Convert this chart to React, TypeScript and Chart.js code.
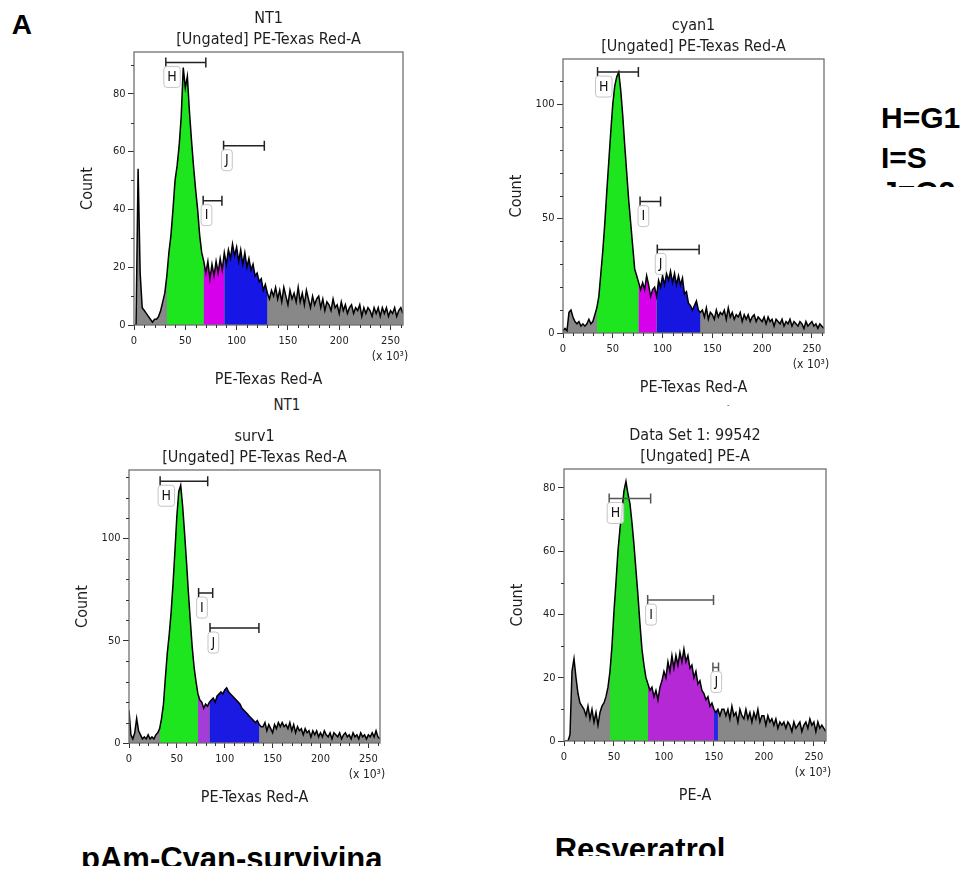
import React, { useEffect, useRef } from 'react';
import { Chart, registerables } from 'chart.js';

Chart.register(...registerables);

// ---------- data ----------
const X_STEP = 2; // histogram bin width, x 10^3
const X_MAX = 262.144;
const X_MAJOR = 50;

const NT1_COUNTS = [
  0, 0, 54, 18, 6, 5, 4, 3, 2, 1,
  2, 2, 3, 5, 8, 11, 17, 25, 31, 40,
  50, 55, 62, 72, 89, 82, 86, 74, 64, 55,
  47, 40, 31, 25, 22, 18, 22, 16, 21, 17,
  22, 18, 23, 19, 25, 21, 26, 23, 28, 24,
  27, 22, 26, 21, 25, 20, 23, 19, 21, 17,
  18, 15, 16, 12, 14, 11, 9, 12, 10, 13,
  9, 12, 8, 13, 10, 7, 12, 9, 11, 8,
  13, 8, 11, 7, 12, 9, 6, 10, 7, 9,
  10, 6, 9, 5, 8, 7, 5, 9, 6, 7,
  4, 8, 5, 7, 4, 6, 7, 4, 6, 5,
  7, 3, 6, 4, 6, 5, 3, 6, 4, 6,
  3, 6, 4, 6, 3, 5, 4, 6, 3, 5,
  6, 4,
];

const CYAN1_COUNTS = [
  1, 2, 1, 9, 10, 7, 5, 4, 5, 3,
  4, 3, 4, 6, 4, 5, 8, 11, 16, 26,
  36, 48, 62, 75, 88, 100, 108, 112, 114, 106,
  95, 82, 70, 58, 48, 38, 28, 25, 22, 19,
  22, 19, 25, 21, 16, 19, 20, 16, 23, 20,
  25, 21, 26, 23, 27, 22, 26, 21, 25, 21,
  24, 17, 18, 13, 12, 10, 12, 14, 10, 9,
  10, 7, 11, 6, 9, 8, 6, 10, 7, 9,
  8, 10, 6, 11, 7, 9, 6, 8, 7, 9,
  5, 8, 6, 8, 5, 7, 8, 5, 7, 6,
  5, 7, 4, 7, 5, 6, 3, 6, 5, 4,
  6, 3, 5, 4, 6, 3, 5, 4, 3, 5,
  4, 2, 5, 3, 4, 5, 3, 4, 2, 4,
  3, 2,
];

const SURV1_COUNTS = [
  16, 4, 2, 5, 12, 6, 4, 2, 3, 2,
  4, 2, 3, 2, 4, 5, 7, 12, 19, 32,
  44, 53, 64, 78, 94, 111, 123, 126, 116, 103,
  89, 74, 60, 47, 37, 30, 24, 21, 20, 17,
  19, 18, 20, 21, 22, 20, 23, 24, 25, 24,
  26, 27, 25, 24, 23, 22, 21, 20, 19, 17,
  16, 15, 14, 13, 12, 11, 10, 11, 9, 8,
  8, 10, 6, 9, 7, 5, 9, 7, 10, 8,
  10, 8, 9, 7, 10, 6, 9, 5, 8, 6,
  7, 4, 7, 5, 6, 3, 6, 4, 6, 3,
  5, 3, 6, 4, 3, 5, 2, 5, 4, 3,
  5, 2, 4, 5, 3, 4, 2, 5, 3, 4,
  2, 5, 3, 4, 2, 4, 3, 5, 3, 6,
  3, 2,
];

const DS1_COUNTS = [
  0, 0, 0, 2, 22, 26, 20, 15, 12, 11,
  10, 8, 11, 7, 10, 6, 9, 5, 9, 11,
  12, 14, 17, 22, 30, 41, 50, 60, 67, 73,
  79, 82, 78, 75, 69, 62, 54, 46, 37, 29,
  24, 20, 18, 16, 17, 14, 16, 13, 17, 19,
  22, 20, 25, 22, 27, 23, 27, 24, 28, 25,
  29, 25, 27, 23, 24, 20, 22, 18, 19, 16,
  15, 13, 14, 11, 12, 10, 9, 10, 8, 10,
  10, 8, 10, 7, 11, 8, 9, 6, 10, 8,
  7, 10, 7, 9, 6, 9, 7, 10, 6, 8,
  8, 5, 8, 6, 7, 5, 7, 4, 6, 5,
  6, 4, 6, 5, 3, 6, 4, 5, 6, 3,
  5, 6, 4, 7, 5, 6, 3, 6, 4, 5,
  4, 3,
];

// gates: label, from, to (x 10^3), level (count)
const NT1_GATES = [
  { label: 'H', from: 31, to: 70, level: 90.8 },
  { label: 'I', from: 67.4, to: 85.7, level: 43 },
  { label: 'J', from: 87.3, to: 127, level: 62 },
];
const CYAN1_GATES = [
  { label: 'H', from: 34.7, to: 75.7, level: 114 },
  { label: 'I', from: 77.4, to: 98, level: 57.4 },
  { label: 'J', from: 94.7, to: 136.7, level: 36.5 },
];
const SURV1_GATES = [
  { label: 'H', from: 32.5, to: 82.2, level: 128 },
  { label: 'I', from: 72.7, to: 87.4, level: 73.3 },
  { label: 'J', from: 84.6, to: 135.7, level: 56.2 },
];
const DS1_GATES = [
  { label: 'H', from: 45.2, to: 86.7, level: 76.6 },
  { label: 'I', from: 83.7, to: 149.6, level: 44.5 },
  { label: 'J', from: 149, to: 154.6, level: 23.2 },
];

// coloured region edges: G1 start, S start, G2 start, G2 end
const NT1_REGIONS = [32, 68, 88, 130];
const CYAN1_REGIONS = [34, 76, 94, 138];
const SURV1_REGIONS = [32, 72, 84, 136];
const DS1_REGIONS = [46, 84, 150, 154];

const FONT = '"DejaVu Sans Condensed", "DejaVu Sans", sans-serif';

const PANELS = [
  {
    key: 'nt1', titles: ['NT1', '[Ungated] PE-Texas Red-A'], xTitle: 'PE-Texas Red-A',
    counts: NT1_COUNTS, gates: NT1_GATES, regions: NT1_REGIONS, yMax: 94.4, yMajor: 20,
    area: { l: 134, t: 52, r: 403, b: 325 },
    colors: { gray: '#888888', h: '#1ee61e', i: '#d600ea', j: '#1616e6', gate: '#222222' },
  },
  {
    key: 'cyan1', titles: ['cyan1', '[Ungated] PE-Texas Red-A'], xTitle: 'PE-Texas Red-A',
    counts: CYAN1_COUNTS, gates: CYAN1_GATES, regions: CYAN1_REGIONS, yMax: 119.7, yMajor: 50,
    area: { l: 563, t: 59, r: 824, b: 333 },
    colors: { gray: '#888888', h: '#1ee61e', i: '#d600ea', j: '#1616e0', gate: '#222222' },
  },
  {
    key: 'surv1', titles: ['surv1', '[Ungated] PE-Texas Red-A'], xTitle: 'PE-Texas Red-A',
    counts: SURV1_COUNTS, gates: SURV1_GATES, regions: SURV1_REGIONS, yMax: 133.5, yMajor: 50,
    area: { l: 129, t: 470, r: 380, b: 743 },
    colors: { gray: '#888888', h: '#1ee61e', i: '#a63cd8', j: '#1a1ae2', gate: '#222222' },
  },
  {
    key: 'ds1', titles: ['Data Set 1: 99542', '[Ungated] PE-A'], xTitle: 'PE-A',
    counts: DS1_COUNTS, gates: DS1_GATES, regions: DS1_REGIONS, yMax: 85.9, yMajor: 20,
    area: { l: 564, t: 469, r: 826, b: 741 },
    colors: { gray: '#888888', h: '#26dc26', i: '#b428d6', j: '#2626e6', gate: '#555555' },
  },
];

const Y_AXIS_W = 75;
const X_AXIS_H = 70;
const PAD_TOP = 50;
const PAD_RIGHT = 28;

function Histogram({ panel }: { panel: any }) {
  const ref = useRef<HTMLCanvasElement>(null);
  const { area } = panel;
  const left = area.l - Y_AXIS_W;
  const top = area.t - PAD_TOP;
  const width = area.r - area.l + Y_AXIS_W + PAD_RIGHT;
  const height = area.b - area.t + PAD_TOP + X_AXIS_H;

  useEffect(() => {
    const canvas = ref.current;
    if (!canvas) return;
    const pts = panel.counts.map((c: number, i: number) => ({ x: i * X_STEP, y: c }));
    const slice = (a: number, b: number) => pts.filter((p: any) => p.x >= a && p.x <= b);
    const [e0, e1, e2, e3] = panel.regions;
    const fillDs = (data: any[], color: string) => ({
      data, fill: 'origin', backgroundColor: color, borderColor: 'rgba(0,0,0,0)',
      borderWidth: 0, pointRadius: 0, tension: 0,
    });
    const c = panel.colors;

    const facsPlugin = {
      id: 'facs' + panel.key,
      afterDatasetsDraw(chart: any) {
        const { ctx, chartArea: a, scales } = chart;
        const xs = scales.x, ys = scales.y;
        ctx.save();
        // gates
        for (const g of panel.gates) {
          const x0 = xs.getPixelForValue(g.from);
          const x1 = xs.getPixelForValue(g.to);
          const y = ys.getPixelForValue(g.level);
          ctx.strokeStyle = c.gate;
          ctx.lineWidth = 1.5;
          ctx.beginPath();
          ctx.moveTo(x0, y); ctx.lineTo(x1, y);
          ctx.moveTo(x0, y - 5); ctx.lineTo(x0, y + 5);
          ctx.moveTo(x1, y - 5); ctx.lineTo(x1, y + 5);
          ctx.stroke();
          ctx.font = `14px ${FONT}`;
          const tw = ctx.measureText(g.label).width;
          const bw = tw + 7, bh = 21, bx = x0 - 2, by = y + 4;
          ctx.beginPath();
          ctx.roundRect(bx, by, bw, bh, 3);
          ctx.fillStyle = 'rgba(255,255,255,0.85)';
          ctx.fill();
          ctx.strokeStyle = '#c4c4c4';
          ctx.lineWidth = 1;
          ctx.stroke();
          ctx.fillStyle = '#151515';
          ctx.textAlign = 'center';
          ctx.textBaseline = 'middle';
          ctx.fillText(g.label, bx + bw / 2, by + bh / 2 + 0.5);
        }
        // frame
        ctx.strokeStyle = '#707070';
        ctx.lineWidth = 1.3;
        ctx.strokeRect(a.left, a.top, a.right - a.left, a.bottom - a.top);
        // minor ticks
        ctx.strokeStyle = '#333';
        ctx.lineWidth = 1;
        ctx.beginPath();
        for (let v = 10; v <= panel.yMax; v += 10) {
          if (v % panel.yMajor === 0) continue;
          const py = Math.round(ys.getPixelForValue(v)) + 0.5;
          ctx.moveTo(a.left - 3, py); ctx.lineTo(a.left, py);
        }
        for (let v = 10; v <= X_MAX; v += 10) {
          if (v % X_MAJOR === 0) continue;
          const px = Math.round(xs.getPixelForValue(v)) + 0.5;
          ctx.moveTo(px, a.bottom); ctx.lineTo(px, a.bottom + 3);
        }
        ctx.stroke();
        ctx.restore();
      },
      afterDraw(chart: any) {
        const { ctx, chartArea: a } = chart;
        ctx.save();
        ctx.fillStyle = '#1e1e1e';
        ctx.textAlign = 'center';
        ctx.textBaseline = 'middle';
        ctx.font = `16px ${FONT}`;
        const cx = (a.left + a.right) / 2;
        ctx.fillText(panel.titles[0], cx, a.top - 33.5);
        ctx.fillText(panel.titles[1], cx, a.top - 12.5);
        ctx.font = `12px ${FONT}`;
        ctx.fillText('(x 10\u00B3)', a.right - 13, a.bottom + 32);
        ctx.restore();
      },
    };

    const tickFont = { family: FONT, size: 11 };
    const titleFont = { family: FONT, size: 16 };

    const chart = new Chart(canvas, {
      type: 'line',
      data: {
        datasets: [
          { data: pts, fill: false, borderColor: '#000', borderWidth: 1.5, pointRadius: 0, tension: 0 },
          fillDs(slice(e2, e3), c.j),
          fillDs(slice(e1, e2), c.i),
          fillDs(slice(e0, e1), c.h),
          fillDs(pts, c.gray),
        ] as any,
      },
      options: {
        animation: false,
        responsive: false,
        events: [],
        layout: { padding: { top: PAD_TOP, right: PAD_RIGHT, left: 0, bottom: 0 } },
        plugins: { legend: { display: false }, tooltip: { enabled: false }, title: { display: false } },
        scales: {
          x: {
            type: 'linear', min: 0, max: X_MAX,
            ticks: {
              stepSize: X_MAJOR, includeBounds: false, autoSkip: false, maxRotation: 0,
              font: tickFont, color: '#222', padding: 4.4,
              callback: (v: any) => String(v),
            },
            grid: { drawOnChartArea: false, drawTicks: true, tickLength: 5, tickColor: '#333' },
            border: { display: false },
            title: { display: true, text: panel.xTitle, font: titleFont, color: '#1e1e1e', padding: { top: 0, bottom: 5.4 } },
            afterFit: (s: any) => { s.height = X_AXIS_H; },
          },
          y: {
            type: 'linear', min: 0, max: panel.yMax,
            ticks: {
              stepSize: panel.yMajor, includeBounds: false, autoSkip: false,
              font: tickFont, color: '#222', padding: 2.5,
              callback: (v: any) => String(v),
            },
            grid: { drawOnChartArea: false, drawTicks: true, tickLength: 6, tickColor: '#333' },
            border: { display: false },
            title: { display: true, text: 'Count', font: titleFont, color: '#1e1e1e', padding: { top: 19, bottom: 0 } },
            afterFit: (s: any) => { s.width = Y_AXIS_W; },
          },
        },
      } as any,
      plugins: [facsPlugin],
    });
    return () => chart.destroy();
  }, []);

  return (
    <canvas
      ref={ref}
      width={width}
      height={height}
      style={{ position: 'absolute', left, top, width, height }}
    />
  );
}

const BOLD = '"Liberation Sans", Arial, Helvetica, sans-serif';

export default function App() {
  const abs: React.CSSProperties = { position: 'absolute', whiteSpace: 'nowrap', color: '#000' };
  return (
    <div style={{ position: 'fixed', left: 0, top: 0, width: 966, height: 869, background: '#fff', overflow: 'hidden' }}>
      {PANELS.map((p) => <Histogram key={p.key} panel={p} />)}

      <div style={{ ...abs, left: 11.7, top: 11.3, font: `bold 28px/28px ${BOLD}` }}>A</div>

      <div style={{ ...abs, left: 881, top: 103, font: `bold 30px/30px ${BOLD}` }}>H=G1</div>
      <div style={{ ...abs, left: 881, top: 142.8, font: `bold 30px/30px ${BOLD}` }}>I=S</div>
      <div style={{ ...abs, left: 881, top: 177, height: 10, overflow: 'hidden' }}>
        <div style={{ font: `bold 30px/30px ${BOLD}` }}>J=G2</div>
      </div>

      <div style={{ ...abs, left: 237, top: 398.2, width: 100, textAlign: 'center', font: `15px/15px ${FONT}`, color: '#1e1e1e' }}>NT1</div>
      <div style={{ ...abs, left: 727, top: 402, font: `8px/8px ${FONT}`, color: '#555' }}>-</div>

      <div style={{ ...abs, left: 81, top: 843, height: 23, overflow: 'hidden' }}>
        <div style={{ font: `bold 31px/31px ${BOLD}` }}>pAm-Cyan-survivina</div>
      </div>
      <div style={{ ...abs, left: 554.7, top: 834, height: 22, overflow: 'hidden' }}>
        <div style={{ font: `bold 31px/31px ${BOLD}` }}>Resveratrol</div>
      </div>
    </div>
  );
}
